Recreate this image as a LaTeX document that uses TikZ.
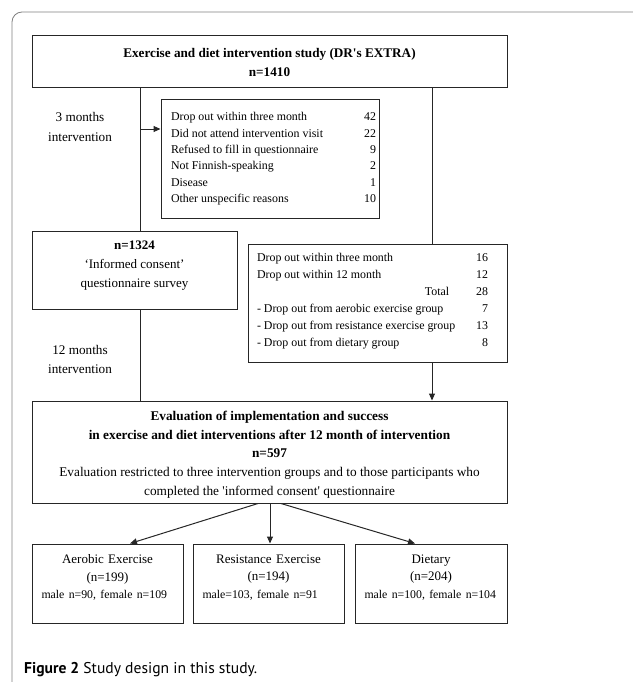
\documentclass[tikz,border=0pt]{standalone}
\usepackage{fontspec}
\setmainfont{Liberation Serif}[Ligatures=TeXOff]
\newfontfamily\capfont{PT Sans}
\usetikzlibrary{arrows.meta}
\begin{document}
\begin{tikzpicture}[x=1pt,y=-1pt,
  box/.style={draw=black!85, line width=1pt, rectangle, inner sep=0pt},
  txt/.style={inner sep=0pt, align=center, font=\fontsize{13.2}{19}\selectfont},
  tbl/.style={inner sep=0pt, font=\fontsize{11.9}{14}\selectfont},
  grp/.style={inner sep=0pt, text width=#1, font=\fontsize{13}{17.5}\selectfont},
  conn/.style={draw=black!85, line width=1pt},
  arr/.style={conn, -{Triangle[length=7pt,width=6pt]}},
  frame/.style={draw=black!50, line width=0.8pt, rounded corners=10pt}
]
\useasboundingbox (0,0) rectangle (632,682);
\draw[frame] (640,12) -- (12,12) -- (12,690);

% coordinates for connector columns
\coordinate (cL) at (140,0);
\coordinate (cR) at (432,0);
\coordinate (a1) at (140,129);
\coordinate (e1) at (258,0);
\coordinate (e2) at (270,0);
\coordinate (e3) at (281,0);
\coordinate (b1) at (130,0);
\coordinate (b3) at (415,0);

% boxes
\node[box, minimum width=475pt, minimum height=52pt] (top) at (269.5,62) {};
\node[txt] (topt) at (269.5,62.5) {\textbf{Exercise and diet intervention study (DR's EXTRA)}\\\textbf{n=1410}};

\node[box, minimum width=218pt, minimum height=118pt] (drop1) at (270,159) {};
\node[tbl] (drop1t) at (273.5,158.5) {\renewcommand{\arraystretch}{1.17}\begin{tabular*}{205pt}{@{}l@{\extracolsep{\fill}}r@{}}
Drop out within three month & 42\\
Did not attend intervention visit & 22\\
Refused to fill in questionnaire & 9\\
Not Finnish-speaking & 2\\
Disease & 1\\
Other unspecific reasons & 10
\end{tabular*}};

\node[box, minimum width=205pt, minimum height=78pt] (n1324) at (134.5,270) {};
\node[txt, font=\fontsize{13}{19}\selectfont] (n1324t) at (134.5,266) {\textbf{n=1324}\\‘Informed consent’\\questionnaire survey};

\node[box, minimum width=259pt, minimum height=118pt] (drop2) at (377.5,303) {};
\node[tbl] (drop2t) at (372.5,300.5) {\renewcommand{\arraystretch}{1.214}\begin{tabular*}{231pt}{@{}l@{\extracolsep{\fill}}r@{}}
Drop out within three month & 16\\
Drop out within 12 month & 12\\
\multicolumn{1}{r}{Total\hspace{5pt}} & 28\\
- Drop out from aerobic exercise group & 7\\
- Drop out from resistance exercise group & 13\\
- Drop out from dietary group & 8
\end{tabular*}};

\node[box, minimum width=475pt, minimum height=102pt] (eval) at (269.5,452) {};
\node[txt, font=\fontsize{13.3}{18.7}\selectfont] (evalt) at (269.5,454.5) {\textbf{Evaluation of implementation and success}\\
\textbf{in exercise and diet interventions after 12 month of intervention}\\
\textbf{n=597}\\
Evaluation restricted to three intervention groups and to those participants who\\
completed the 'informed consent' questionnaire};

\node[box, minimum width=151pt, minimum height=79pt] (aer) at (107.5,583.5) {};
\node[grp=132pt] (aert) at (107.5,577.5) {{\centering Aerobic Exercise\\(n=199)\par}{\raggedright\fontsize{11.8}{17.5}\selectfont male n=90, female n=109\par}};

\node[box, minimum width=151pt, minimum height=79pt] (res) at (268.5,583.5) {};
\node[grp=132pt] (rest) at (268.5,577.5) {{\centering Resistance Exercise\\(n=194)\par}{\raggedright\fontsize{11.8}{17.5}\selectfont male=103, female n=91\par}};

\node[box, minimum width=152pt, minimum height=79pt] (diet) at (431,583.5) {};
\node[grp=133pt] (dietr) at (431,577.5) {{\centering Dietary\\(n=204)\par}{\raggedright\fontsize{11.8}{17.5}\selectfont male n=100, female n=104\par}};

% labels
\node[txt, font=\fontsize{13.2}{20}\selectfont] (l3) at (80,127) {3 months\\intervention};
\node[txt] (l12) at (80,359.5) {12 months\\intervention};

% connectors
\draw[conn] (top.south -| cL) -- (n1324.north -| cL);
\draw[arr] (a1) -- (a1 -| drop1.west);
\draw[conn] (n1324.south -| cL) -- (eval.north -| cL);
\draw[conn] (top.south -| cR) -- (drop2.north -| cR);
\draw[arr] (drop2.south -| cR) -- (eval.north -| cR);
\draw[arr] (eval.south -| e1) -- (aer.north -| b1);
\draw[arr] (eval.south -| e2) -- (res.north -| e2);
\draw[arr] (eval.south -| e3) -- (diet.north -| b3);

% caption
\node[anchor=base west, inner sep=0pt, font=\capfont\fontsize{15.6}{19}\selectfont] (cap) at (24,673) {\textbf{Figure 2} Study design in this study.};
\end{tikzpicture}
\end{document}
